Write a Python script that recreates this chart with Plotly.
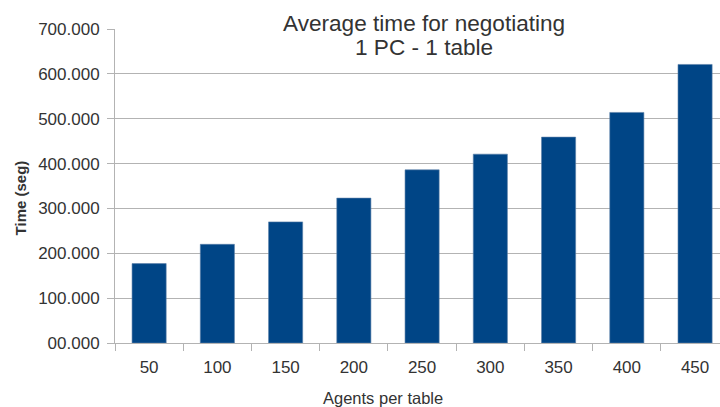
import plotly.graph_objects as go

# Negotiation benchmark: average time per number of agents at one table
agents = ["50", "100", "150", "200", "250", "300", "350", "400", "450"]
avg_time = [177, 220, 270, 323, 386, 421, 459, 514, 621]

y_ticks = [0, 100, 200, 300, 400, 500, 600, 700]
y_tick_labels = ["00.000", "100.000", "200.000", "300.000", "400.000",
                 "500.000", "600.000", "700.000"]

title_lines = ["Average time for negotiating", "1 PC - 1 table"]
x_title = "Agents per table"
y_title = "Time (seg)"

FONT = "Liberation Sans, Arial, sans-serif"
TEXT = "#333333"
GRID = "#b3b3b3"

W, H = 720, 407
L, T, B = 114.5, 29, 63.7
plot_w = W - L
plot_h = H - T - B
cat_px = 68.3  # horizontal space per category


def px_x(x):
    return (x - L) / plot_w


def px_y(y):
    return (H - B - y) / plot_h


fig = go.Figure(
    go.Bar(
        x=agents,
        y=avg_time,
        width=0.5,
        marker=dict(color="#004586", line=dict(color="#5b7fa8", width=0.6)),
        hoverinfo="x+y",
    )
)

fig.update_layout(
    width=W,
    height=H,
    margin=dict(l=L, r=0, t=T, b=B, pad=0),
    paper_bgcolor="white",
    plot_bgcolor="white",
    showlegend=False,
    font=dict(family=FONT, color=TEXT, size=17),
    xaxis=dict(
        type="category",
        range=[-0.5, -0.5 + plot_w / cat_px],
        tickson="boundaries",
        ticks="outside",
        ticklen=7,
        tickcolor=GRID,
        tickwidth=1,
        showline=True,
        linecolor=GRID,
        linewidth=1,
        showgrid=False,
        tickfont=dict(size=17, color=TEXT),
        ticklabelstandoff=9,
    ),
    yaxis=dict(
        range=[0, 700],
        tickvals=y_ticks,
        ticktext=y_tick_labels,
        ticks="outside",
        ticklen=7,
        tickcolor=GRID,
        tickwidth=1,
        showline=True,
        linecolor=GRID,
        linewidth=1,
        showgrid=True,
        gridcolor=GRID,
        gridwidth=1,
        zeroline=False,
        tickfont=dict(size=17, color=TEXT),
        ticklabelstandoff=4,
    ),
)

annotations = [
    dict(text=title_lines[0], x=px_x(423.8), y=px_y(23.5), font=dict(size=22.6),
         bgcolor="white", borderpad=0),
    dict(text=title_lines[1], x=px_x(423.8), y=px_y(48.0), font=dict(size=22.6)),
    dict(text=x_title, x=px_x(383), y=px_y(398), font=dict(size=16.5)),
    dict(text="<b>" + y_title + "</b>", x=px_x(20), y=px_y(198), textangle=-90,
         font=dict(size=15)),
]
for a in annotations:
    a.update(xref="paper", yref="paper", showarrow=False,
             xanchor="center", yanchor="middle")
    a["font"].update(family=FONT, color=TEXT)
fig.update_layout(annotations=annotations)

fig.write_html("out.html")
